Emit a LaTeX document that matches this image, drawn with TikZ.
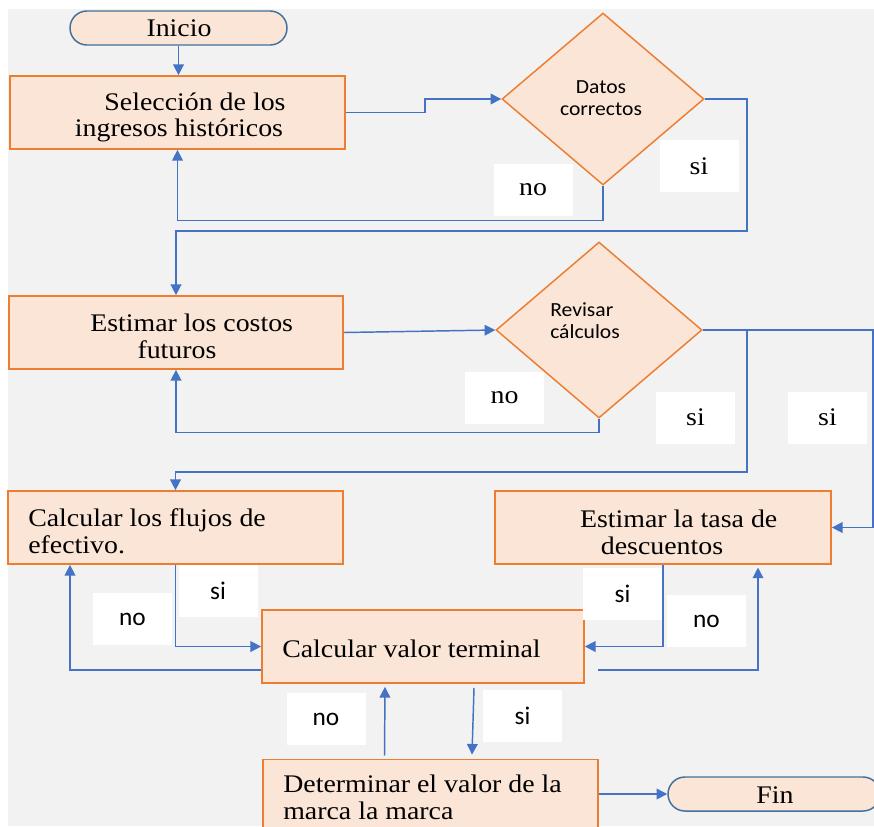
\documentclass[tikz,border=0pt]{standalone}
\usepackage{fontspec}
\setmainfont{Liberation Serif}
\newfontfamily\sansf{Carlito}
\newfontfamily\serf[FakeStretch=1.1]{Liberation Serif}
\newfontfamily\sansw[FakeStretch=1.08]{Carlito}
\usetikzlibrary{shapes.geometric,arrows.meta}
\definecolor{boxfill}{HTML}{FBE5D6}
\definecolor{boxline}{HTML}{ED7D31}
\definecolor{arr}{HTML}{4472C4}
\definecolor{termline}{HTML}{41719C}
\definecolor{bg}{HTML}{F2F2F2}
\begin{document}
\begin{tikzpicture}[x=0.75pt,y=-0.75pt,
  box/.style={draw=boxline,fill=boxfill,line width=1.3pt,inner sep=0pt,minimum height=73*0.75pt},
  termbox/.style={draw=termline,fill=boxfill,line width=1.1pt,rounded corners=12.7pt,inner sep=0pt,minimum height=34*0.75pt},
  dec/.style={shape=diamond,draw=boxline,fill=boxfill,line width=1.1pt,inner sep=0pt},
  txt/.style={font=\serf\fontsize{19}{20}\selectfont,inner sep=0pt},
  stxt/.style={font=\sansw\fontsize{15}{15}\selectfont,inner sep=0pt,anchor=base},
  lab/.style={fill=white,minimum width=79*0.75pt,minimum height=52*0.75pt,inner sep=0pt},
  serlab/.style={lab,font=\serf\fontsize{19}{20}\selectfont},
  sanlab/.style={lab,font=\sansf\fontsize{19}{20}\selectfont},
  conn/.style={draw=arr,line width=1.1pt,-{Triangle[length=8pt,width=8pt]}},
]
\clip (0,0) rectangle (874,826);
\fill[white] (0,0) rectangle (874,826);
\fill[bg] (8,9) rectangle (874,826);

% nodes
\node[termbox,minimum width=217*0.75pt] (ini) at (178.5,28) {};
\node[txt] (tini) at (179,28.5) {Inicio};
\node[box,minimum width=335*0.75pt] (b1) at (177.5,112.5) {};
\node[txt,align=center] (t1) at (179,117.5) {\hspace*{24pt}Selección de los\\ingresos históricos};
\node[dec,minimum width=202*0.75pt,minimum height=172*0.75pt] (d1) at (603,99) {};
\node[stxt] (td1a) at (601,93) {Datos};
\node[stxt] (td1b) at (601,115) {correctos};

\node[box,minimum width=334*0.75pt] (b2) at (176,332.5) {};
\node[txt,align=center] (t2) at (177,336.5) {\hspace*{22pt}Estimar los costos\\futuros};
\node[dec,minimum width=206*0.75pt,minimum height=176*0.75pt] (d2) at (599,330) {};
\node[stxt,anchor=base west] (td2a) at (550,316) {Revisar};
\node[stxt,anchor=base west] (td2b) at (550,338) {cálculos};

\node[box,minimum width=335*0.75pt] (b3) at (175.5,527.5) {};
\node[txt,align=left,anchor=west] (t3) at (28,531) {Calcular los flujos de\\efectivo.};
\node[box,minimum width=336*0.75pt] (b4) at (663,527.5) {};
\node[txt,align=center] (t4) at (662,532) {\hspace*{25pt}Estimar la tasa de\\descuentos};

\node[box,minimum width=322*0.75pt] (b5) at (423,646.5) {};
\node[txt,anchor=west] (t5) at (282,649) {Calcular valor terminal};
\node[box,minimum width=335*0.75pt] (b6) at (430.5,796) {};
\node[txt,align=left,anchor=west] (t6) at (283,797.5) {Determinar el valor de la\\marca la marca};
\node[termbox,minimum width=212*0.75pt] (fin) at (774,794) {};
\node[txt] (tfin) at (775,795) {Fin};

% connectors
\draw[conn] (ini.south) -- (ini.south |- b1.north);
\draw[conn] (b1.east) -- ++(79,0) |- (d1.west);
\draw[conn] (d1.south) -- ++(0,35) -| (b1.south);
\draw[conn] (d1.east) -| (747,231) -| (b2.north);
\draw[conn] (b2.east) -- (d2.west);
\draw[conn] (d2.south) -- ++(0,14) -| (b2.south);
\draw[conn] (d2.east) -- (873,330) |- (b4.east);
\coordinate (j1) at (747,330);
\draw[conn] (j1) -- (747,472) -| (b3.north);
\draw[conn] (b3.south) |- (b5.west);
\coordinate (c10) at (70,670);
\draw[conn] (b5.west |- c10) -- (c10) -- (c10 |- b3.south);
\draw[conn] (b4.south) |- (b5.east);
\coordinate (c12) at (598,670);
\coordinate (c12b) at (758,670);
\draw[conn] (c12) -- (c12b) -- ([yshift=-2pt]c12b |- b4.south);
\draw[conn] ([shift={(51,4)}]b5.south) -- ([shift={(-2,-4)}]b6.north -| 474,0);
\draw[conn] ([shift={(-46,-3)}]b6.north) -- ([shift={(-38,3)}]b5.south);
\draw[conn] (b6.east |- fin.west) -- (fin.west);

% labels
\node[serlab] (l1) at (533,189.5) {no};
\node[serlab] (l2) at (699,166) {si};
\node[serlab] (l3) at (504.5,398) {no};
\node[serlab] (l4) at (695.5,417.5) {si};
\node[serlab] (l5) at (827.5,417.5) {si};
\node[sanlab] (l6) at (218,591) {si};
\node[sanlab] (l7) at (132.5,619) {no};
\node[sanlab] (l8) at (622.5,594) {si};
\node[sanlab] (l9) at (706.5,621) {no};
\node[sanlab] (l10) at (522.5,716) {si};
\node[sanlab] (l11) at (326,719) {no};
\end{tikzpicture}
\end{document}
